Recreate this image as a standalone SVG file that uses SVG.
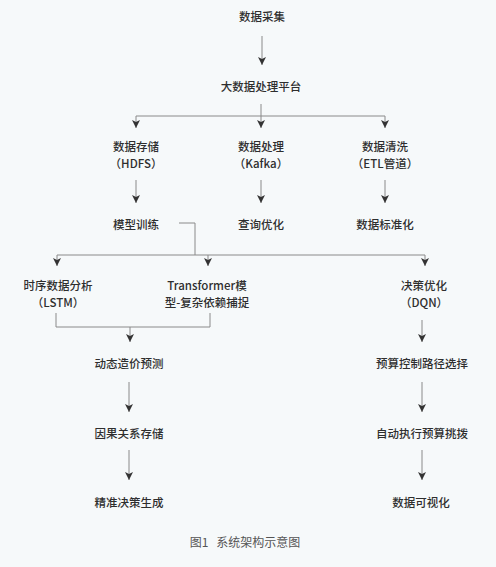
<svg xmlns="http://www.w3.org/2000/svg" width="496" height="567" viewBox="0 0 496 567">
<style>
.t{font-family:"Noto Sans CJK SC","Noto Sans",sans-serif;font-size:11.5px;fill:#2e2e2e;text-anchor:middle;dominant-baseline:central;font-weight:500}
.c{fill:none;stroke:#8a8a8a;stroke-width:1}
.cap{font-family:"Noto Sans CJK SC","Noto Sans",sans-serif;font-size:12px;fill:#555;text-anchor:middle;dominant-baseline:central}
</style>
<defs>
<marker id="a" markerUnits="userSpaceOnUse" markerWidth="8" markerHeight="8" refX="8" refY="4" orient="auto">
<path d="M0,0 L8,4 L0,8 L2,4 z" fill="#333"/>
</marker>
</defs>
<rect width="496" height="567" fill="#f6f9fa"/>
<g id="connectors">
<path class="c" d="M262,36 V65" marker-end="url(#a)"/>
<path class="c" d="M261,104 V116 M136,116 H385"/>
<path class="c" d="M136,116 V128" marker-end="url(#a)"/>
<path class="c" d="M261,116 V128" marker-end="url(#a)"/>
<path class="c" d="M385,116 V128" marker-end="url(#a)"/>
<path class="c" d="M136,180 V203" marker-end="url(#a)"/>
<path class="c" d="M261,180 V203" marker-end="url(#a)"/>
<path class="c" d="M385,180 V203" marker-end="url(#a)"/>
<path class="c" d="M179,223 H195 V255 M57,255 H425"/>
<path class="c" d="M57,255 V266" marker-end="url(#a)"/>
<path class="c" d="M208,255 V266" marker-end="url(#a)"/>
<path class="c" d="M425,255 V266" marker-end="url(#a)"/>
<path class="c" d="M56,313 V327 H210 V313"/>
<path class="c" d="M130,327 V342" marker-end="url(#a)"/>
<path class="c" d="M422,320 V342" marker-end="url(#a)"/>
<path class="c" d="M129,382 V412" marker-end="url(#a)"/>
<path class="c" d="M422,382 V412" marker-end="url(#a)"/>
<path class="c" d="M129,450 V480" marker-end="url(#a)"/>
<path class="c" d="M422,450 V480" marker-end="url(#a)"/>
</g>
<g id="n1"><text class="t" x="262" y="16">数据采集</text></g>
<g id="n2"><text class="t" x="261" y="86">大数据处理平台</text></g>
<g id="n3"><text class="t" x="136" y="146">数据存储</text><text class="t" x="136" y="163">（HDFS）</text></g>
<g id="n4"><text class="t" x="261" y="146">数据处理</text><text class="t" x="261" y="163">（Kafka）</text></g>
<g id="n5"><text class="t" x="385" y="146">数据清洗</text><text class="t" x="385" y="163">（ETL管道）</text></g>
<g id="n6"><text class="t" x="136" y="224">模型训练</text></g>
<g id="n7"><text class="t" x="261" y="224">查询优化</text></g>
<g id="n8"><text class="t" x="385" y="224">数据标准化</text></g>
<g id="n9"><text class="t" x="58" y="285">时序数据分析</text><text class="t" x="58" y="302">（LSTM）</text></g>
<g id="n10"><text class="t" x="207" y="285">Transformer模</text><text class="t" x="207" y="302">型-复杂依赖捕捉</text></g>
<g id="n11"><text class="t" x="424" y="285">决策优化</text><text class="t" x="424" y="302">（DQN）</text></g>
<g id="n12"><text class="t" x="129" y="363">动态造价预测</text></g>
<g id="n13"><text class="t" x="422" y="363">预算控制路径选择</text></g>
<g id="n14"><text class="t" x="129" y="433">因果关系存储</text></g>
<g id="n15"><text class="t" x="422" y="433">自动执行预算挑拨</text></g>
<g id="n16"><text class="t" x="129" y="502">精准决策生成</text></g>
<g id="n17"><text class="t" x="421" y="502">数据可视化</text></g>
<text class="cap" x="245" y="541" xml:space="preserve">图1   系统架构示意图</text>
</svg>
